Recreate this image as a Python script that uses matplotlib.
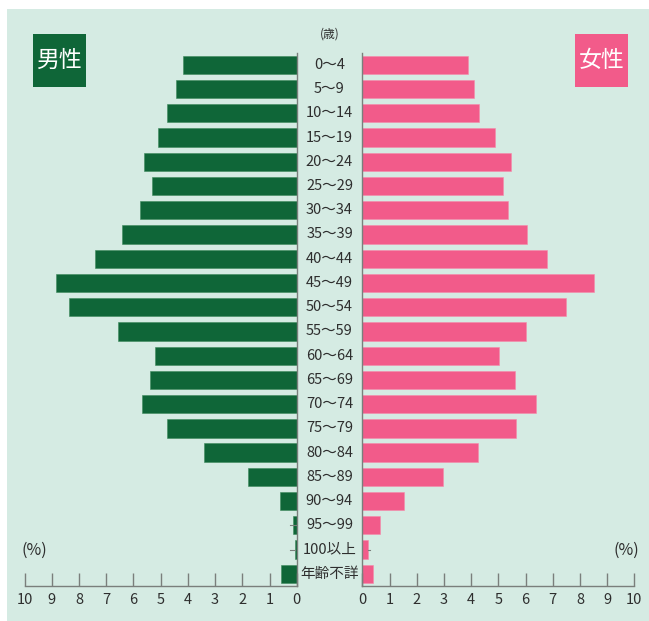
import matplotlib
matplotlib.use('Agg')
import matplotlib.pyplot as plt
from matplotlib.patches import Rectangle
from matplotlib.transforms import blended_transform_factory

plt.rcParams['font.family'] = ['Noto Sans CJK JP', 'DejaVu Sans']

# data (% of each sex)
ages = ['0〜4', '5〜9', '10〜14', '15〜19', '20〜24', '25〜29', '30〜34',
        '35〜39', '40〜44', '45〜49', '50〜54', '55〜59', '60〜64', '65〜69',
        '70〜74', '75〜79', '80〜84', '85〜89', '90〜94', '95〜99', '100以上',
        '年齢不詳']
male = [4.18, 4.43, 4.77, 5.09, 5.61, 5.31, 5.75, 6.42, 7.42, 8.86, 8.36,
        6.57, 5.20, 5.41, 5.69, 4.77, 3.40, 1.80, 0.63, 0.14, 0.05, 0.58]
female = [3.89, 4.12, 4.28, 4.88, 5.45, 5.17, 5.34, 6.04, 6.78, 8.50, 7.50,
          6.02, 5.01, 5.63, 6.37, 5.65, 4.24, 2.98, 1.54, 0.66, 0.20, 0.41]
ticks = list(range(0, 11))

green = '#0f6638'
pink = '#f25b8a'
bg = '#d5ebe3'
txt = '#2e2e2e'
axis_c = '#7a7f7c'

W, H = 649, 621
fig = plt.figure(figsize=(W / 100, H / 100), dpi=100)
fig.patch.set_facecolor('white')
fig.patches.append(Rectangle((6.5 / W, 0), 1, 1 - 9 / H, transform=fig.transFigure,
                             facecolor=bg, edgecolor='none', zorder=-10))

y0 = (H - 585.7) / H
y1 = (H - 53) / H
axL = fig.add_axes([24.7 / W, y0, 272 / W, y1 - y0])
axR = fig.add_axes([362.3 / W, y0, 272 / W, y1 - y0])

ypos = list(range(len(ages)))
axL.barh(ypos, male, height=0.755, color=green, edgecolor='#3f8a5e', linewidth=0.4)
axR.barh(ypos, female, height=0.755, color=pink, edgecolor='#f58aab', linewidth=0.4)

# little leader marks for the tiny bars
axL.plot([0.25, 0.0], [19, 19], color=axis_c, lw=0.8)
axL.plot([0.25, 0.05], [20, 20], color=axis_c, lw=0.8)
axR.plot([0.2, 0.3], [20, 20], color=axis_c, lw=0.8)

for ax in (axL, axR):
    ax.set_facecolor('none')
    ax.set_ylim(21.49, -0.487)
    ax.set_yticks([])
    ax.set_xticks(ticks)
    ax.set_xticklabels([str(t) for t in ticks], fontsize=10.5, color=txt)
    ax.tick_params(axis='x', direction='in', length=9.4, width=1, color=axis_c, pad=5)
    ax.spines['top'].set_visible(False)
    for s in ax.spines.values():
        s.set_color(axis_c)
        s.set_linewidth(1)

axL.set_xlim(10, 0)
axL.spines['left'].set_visible(False)
axR.set_xlim(0, 10)
axR.spines['right'].set_visible(False)

# age labels in the middle
tr = blended_transform_factory(fig.transFigure, axL.transData)
for i, a in enumerate(ages):
    fig.text(329.5 / W, i, a, transform=tr, ha='center', va='center',
             fontsize=10.5, color=txt)
fig.text(329.5 / W, 1 - 34 / H, '(歳)', ha='center', va='center', fontsize=8.5, color=txt)

fig.text(34 / W, 1 - 550 / H, '(%)', ha='center', va='center', fontsize=11.5, color=txt)
fig.text(626 / W, 1 - 550 / H, '(%)', ha='center', va='center', fontsize=11.5, color=txt)

# sex boxes
for x0, x1, col, lab in [(32.7, 86, green, '男性'), (575, 628.3, pink, '女性')]:
    fig.patches.append(Rectangle((x0 / W, 1 - 86.7 / H), (x1 - x0) / W, 52.7 / H,
                                 transform=fig.transFigure, facecolor=col,
                                 edgecolor='none'))
    fig.text((x0 + x1) / 2 / W, 1 - 60.5 / H, lab, ha='center', va='center',
             fontsize=16.5, color='white')

plt.savefig('out.png', dpi=100)
